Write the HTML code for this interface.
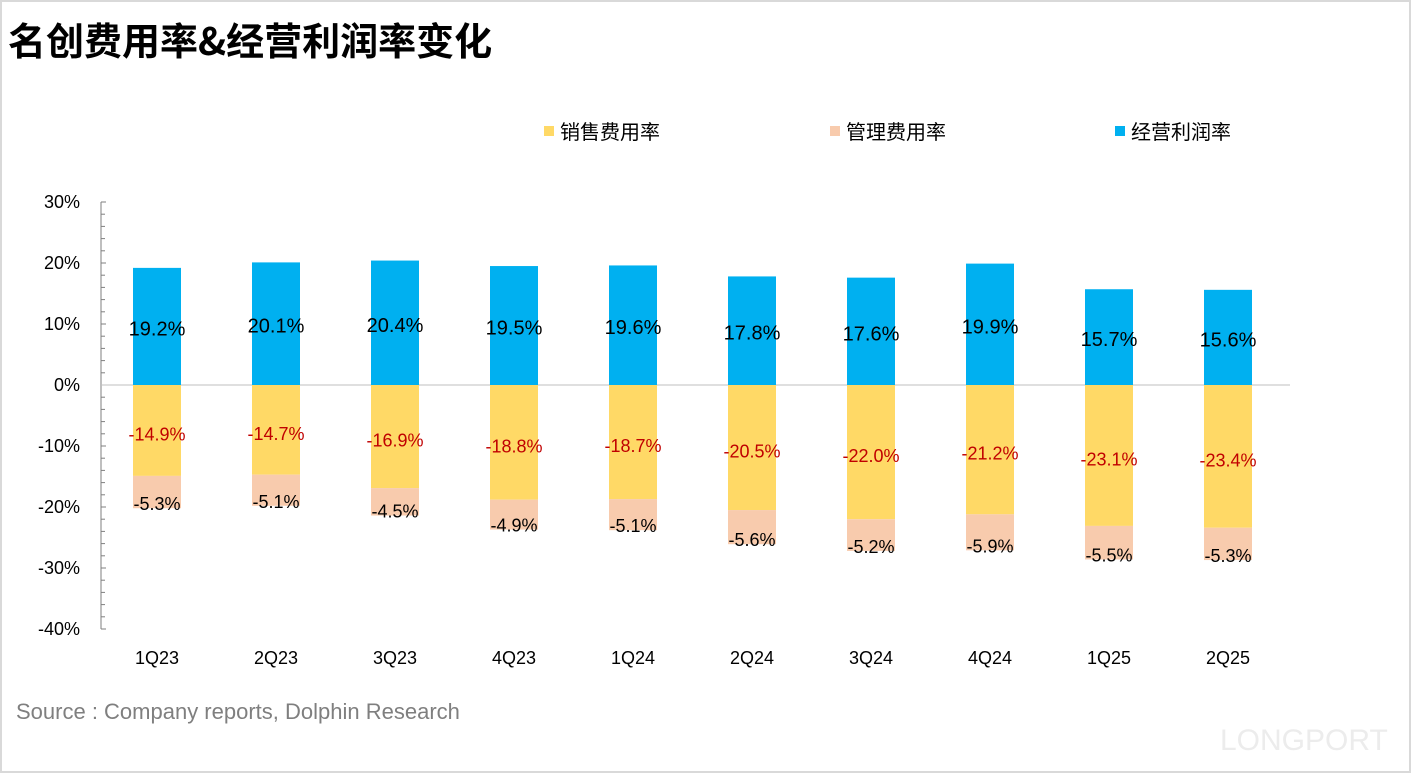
<!DOCTYPE html>
<html><head><meta charset="utf-8"><style>
body{margin:0;background:#fff;}
svg{display:block;font-family:"Liberation Sans","Noto Sans CJK SC",sans-serif;}
</style></head><body>
<svg id="c" width="1411" height="773" viewBox="0 0 1411 773">
<rect x="1" y="1" width="1409" height="771" fill="#fff" stroke="#d9d9d9" stroke-width="2"/>
<text x="8" y="55" font-size="38" font-weight="bold" font-family="'Noto Sans CJK SC',sans-serif">名创费用率&amp;经营利润率变化</text>
<g>
<rect x="544" y="126" width="10" height="10" fill="#ffd966"/>
<text x="560" y="139" font-size="20" font-family="'Noto Sans CJK SC',sans-serif">销售费用率</text>
<rect x="830" y="126" width="10" height="10" fill="#f8cbad"/>
<text x="846" y="139" font-size="20" font-family="'Noto Sans CJK SC',sans-serif">管理费用率</text>
<rect x="1115" y="126" width="10" height="10" fill="#00b0f0"/>
<text x="1131" y="139" font-size="20" font-family="'Noto Sans CJK SC',sans-serif">经营利润率</text>
</g>
<g id="plot"></g>
<text x="16" y="719" font-size="22" fill="#7f7f7f">Source : Company reports, Dolphin Research</text>
<text x="1220" y="750" font-size="30" fill="#ececec">LONGPORT</text>
</svg>
<script>
const categories=["1Q23","2Q23","3Q23","4Q23","1Q24","2Q24","3Q24","4Q24","1Q25","2Q25"];
const opMargin=[19.2,20.1,20.4,19.5,19.6,17.8,17.6,19.9,15.7,15.6];
const salesRate=[-14.9,-14.7,-16.9,-18.8,-18.7,-20.5,-22.0,-21.2,-23.1,-23.4];
const adminRate=[-5.3,-5.1,-4.5,-4.9,-5.1,-5.6,-5.2,-5.9,-5.5,-5.3];
const yTicks=[30,20,10,0,-10,-20,-30,-40];
const NS="http://www.w3.org/2000/svg";
const g=document.getElementById('plot');
const y=v=>385-v*6.1;
const x=i=>157+i*119;
const bw=48;
function mk(tag,attrs,txt){const e=document.createElementNS(NS,tag);for(const k in attrs)e.setAttribute(k,attrs[k]);if(txt!==undefined)e.textContent=txt;g.appendChild(e);return e;}
let ax=mk('line',{x1:101,x2:101,y1:y(30),y2:y(-40),stroke:'#7f7f7f'});


for(let v=30;v>=-40;v-=2){const t=mk('line',{x1:101,x2:(v%10===0?106:105),y1:y(v),y2:y(v),stroke:'#7f7f7f'});

}
yTicks.forEach(v=>{const t=mk('text',{x:80,y:y(v)+6,'font-size':18,'text-anchor':'end'},v+'%');

});
let zl=mk('line',{x1:101,x2:1290,y1:y(0),y2:y(0),stroke:'#bfbfbf'});


categories.forEach((c,i)=>{
const cx=x(i);
let b=mk('rect',{x:cx-bw/2,y:y(opMargin[i]),width:bw,height:y(0)-y(opMargin[i]),fill:'#00b0f0'});


let s=mk('rect',{x:cx-bw/2,y:y(0),width:bw,height:y(salesRate[i])-y(0),fill:'#ffd966'});


const aTop=salesRate[i],aBot=salesRate[i]+adminRate[i];
let a=mk('rect',{x:cx-bw/2,y:y(aTop),width:bw,height:y(aBot)-y(aTop),fill:'#f8cbad'});


let t1=mk('text',{x:cx,y:(y(opMargin[i])+y(0))/2+9,'font-size':20,'text-anchor':'middle'},opMargin[i].toFixed(1)+'%');


let t2=mk('text',{x:cx,y:(y(salesRate[i])+y(0))/2+10,'font-size':18,'text-anchor':'middle',fill:'#c00000'},salesRate[i].toFixed(1)+'%');


let t3=mk('text',{x:cx,y:y(aBot)+2,'font-size':18,'text-anchor':'middle'},adminRate[i].toFixed(1)+'%');


let t4=mk('text',{x:cx,y:664,'font-size':18,'text-anchor':'middle'},c);


});
</script>
</body></html>
